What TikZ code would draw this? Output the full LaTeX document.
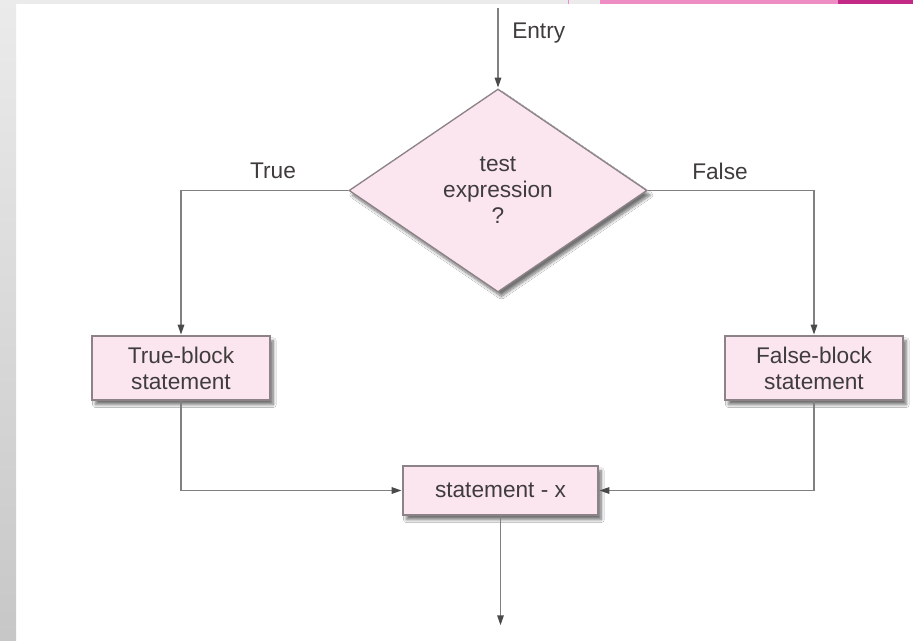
\documentclass[tikz,border=0pt]{standalone}
\usepackage{fontspec}
\setmainfont{Liberation Sans}
\usetikzlibrary{shapes.geometric,arrows.meta,shadows.blur}

\definecolor{boxfill}{HTML}{FBE6F0}
\definecolor{boxline}{HTML}{8C8288}
\definecolor{wire}{HTML}{808080}
\definecolor{tipcol}{HTML}{4A4A4A}
\definecolor{txt}{HTML}{403C3E}
\definecolor{bandgrey}{HTML}{EBEBEB}
\definecolor{bandpink}{HTML}{EE8CC4}
\definecolor{bandmagenta}{HTML}{C22A85}

\tikzset{
  label text/.style={text=txt, font=\fontsize{17}{19.5}\selectfont, align=center, inner sep=0pt},
  flowbox/.style={label text, draw=boxline, line width=1pt, fill=boxfill,
    blur shadow={shadow xshift=2.5pt, shadow yshift=-3.5pt, shadow blur steps=10, shadow opacity=55}},
  decision/.style={flowbox, diamond, aspect=1.47},
  wireline/.style={draw=wire, line width=1.3pt},
  flow/.style={wireline, -{Triangle[length=7.5pt,width=4.8pt,color=tipcol]}, shorten >=0.5pt},
}

\begin{document}
\begin{tikzpicture}[x=0.75pt,y=-0.75pt]
  \useasboundingbox (0,0) rectangle (913,640);
  \fill[white] (0,0) rectangle (913,640);

  % page frame: grey side strip and coloured top band
  \shade[top color=bandgrey, bottom color=black!22] (0,0) rectangle (16,640);
  \fill[bandgrey] (0,0) rectangle (600,4);
  \fill[bandpink] (600,0) rectangle (838,4);
  \fill[bandmagenta] (838,0) rectangle (913,4);
  \draw[bandpink, line width=0.75pt] (568,0) -- (568,4);

  % decision and statement blocks
  \node[decision, minimum width=223.5pt, minimum height=152.25pt] (test) at (498,190.5)
    {test\\expression\\?};
  \node[flowbox, minimum width=133.5pt, minimum height=48pt] (tblock) at (181,368)
    {True-block\\statement};
  \node[flowbox, minimum width=133.5pt, minimum height=48pt] (fblock) at (814,368)
    {False-block\\statement};
  \node[flowbox, minimum width=146.25pt, minimum height=36.75pt] (stmtx) at (500.5,490.5)
    {statement - x};

  % free ends of the entry and exit arrows
  \coordinate (entry) at (498,8);
  \coordinate (exit) at (500.5,626);

  % connectors
  \draw[flow] (entry) -- (test.north);
  \draw[flow] (test.west) -| (tblock.north);
  \draw[flow] (test.east) -| (fblock.north);
  \draw[flow] (tblock.south) |- (stmtx.west);
  \draw[flow] (fblock.south) |- (stmtx.east);
  \draw[flow] (stmtx.south) -- (exit);

  % branch and entry labels
  \node[label text, anchor=west] (entrylbl) at (512,33) {Entry};
  \node[label text] (truelbl) at (273,171) {True};
  \node[label text] (falselbl) at (720,171) {False};
\end{tikzpicture}
\end{document}
